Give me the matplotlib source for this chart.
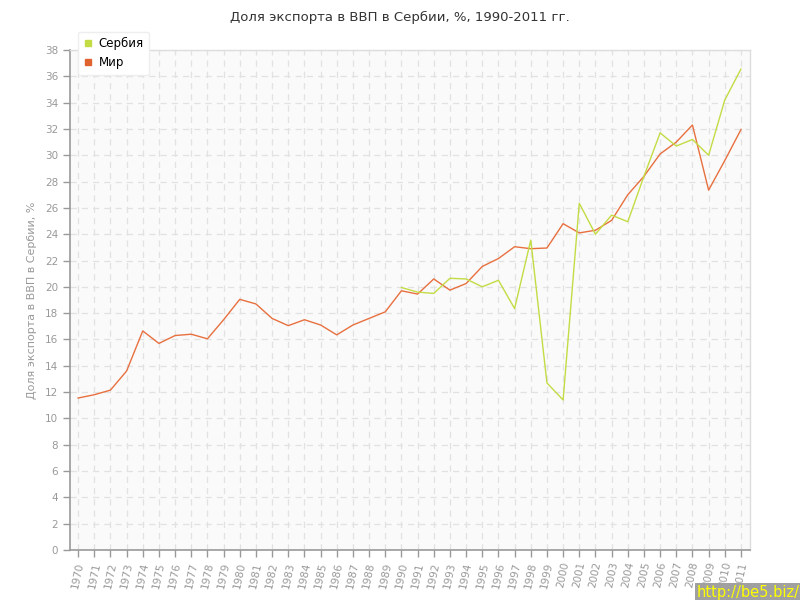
import numpy as np
import matplotlib
matplotlib.use("Agg")
import matplotlib.pyplot as plt
from matplotlib.lines import Line2D

# -------------------------------
# Data
# -------------------------------
years_world = list(range(1970, 2012))
world = [11.55, 11.8, 12.15, 13.6, 16.65, 15.7, 16.3, 16.4, 16.05, 17.5,
         19.05, 18.7, 17.6, 17.05, 17.5, 17.1, 16.35, 17.1, 17.6, 18.1,
         19.7, 19.45, 20.6, 19.75, 20.25, 21.55, 22.15, 23.05, 22.9, 22.95,
         24.8, 24.1, 24.3, 25.05, 27.0, 28.4, 30.1, 31.0, 32.3, 27.35,
         29.6, 31.95]

years_serbia = list(range(1990, 2012))
serbia = [19.95, 19.6, 19.5, 20.65, 20.6, 20.0, 20.5, 18.35, 23.55, 12.7,
          11.4, 26.35, 24.0, 25.45, 24.95, 28.4, 31.7, 30.7, 31.2, 30.0,
          34.2, 36.55]

year_labels = [str(y) for y in years_world]

title = "Доля экспорта в ВВП в Сербии, %, 1990-2011 гг."
ylabel = "Доля экспорта в ВВП в Сербии, %"

c_serbia = "#c3dc44"
c_world = "#e8703f"
gray = "#999999"

fig = plt.figure(figsize=(8, 6), dpi=100)
ax = fig.add_axes([70 / 800, 50 / 600, 680 / 800, 500 / 600])
ax.set_facecolor("#fafafa")

ax.plot(years_world, world, color=c_world, lw=1.0)
ax.plot(years_serbia, serbia, color=c_serbia, lw=1.0)

ax.set_xlim(1969.5, 2011.56)
ax.set_ylim(0, 38)
ax.set_yticks(np.arange(0, 39, 2))
ax.set_xticks(years_world)
ax.set_xticklabels(year_labels, rotation=78, ha="center", va="top")

ax.grid(True, color="#e2e2e2", linestyle=(0, (5, 4)), lw=0.9)
ax.set_axisbelow(True)

for s in ["top", "right"]:
    ax.spines[s].set_color("#dddddd")
    ax.spines[s].set_linewidth(1.0)
for s in ["left", "bottom"]:
    ax.spines[s].set_color(gray)
    ax.spines[s].set_linewidth(1.2)

ax.tick_params(axis="both", colors=gray, labelcolor=gray, labelsize=7.5,
               length=5, width=1, direction="out")
ax.tick_params(axis="x", pad=3)

ax.set_ylabel(ylabel, color=gray, fontsize=8)
ax.yaxis.set_label_coords(-33 / 680, 0.5)

fig.text(0.5, 1 - 17 / 600, title, ha="center", va="center",
         fontsize=9.5, color="#333333")

handles = [
    Line2D([], [], marker="s", color="none", markerfacecolor=c_serbia,
           markeredgecolor=c_serbia, markersize=4),
    Line2D([], [], marker="s", color="none", markerfacecolor="#e0622e",
           markeredgecolor="#e0622e", markersize=4),
]
leg = fig.legend(handles, ["Сербия", "Мир"], loc="upper left",
                 bbox_to_anchor=(78 / 800, 1 - 32 / 600), frameon=True,
                 fancybox=True, shadow=False, fontsize=8.5, handlelength=0.8,
                 handletextpad=0.5, borderpad=0.45, labelspacing=0.5,
                 borderaxespad=0)
leg.get_frame().set_edgecolor("#eeeeee")
leg.get_frame().set_facecolor("white")
leg.get_frame().set_alpha(1)

# watermark
fig.text(1.0, 0.0, "http://be5.biz/", ha="right", va="bottom",
         fontsize=10.5, color="#ffff00",
         bbox=dict(boxstyle="square,pad=0.15", fc="#a0a0a0", ec="none"))

fig.savefig("out.png", dpi=100)
